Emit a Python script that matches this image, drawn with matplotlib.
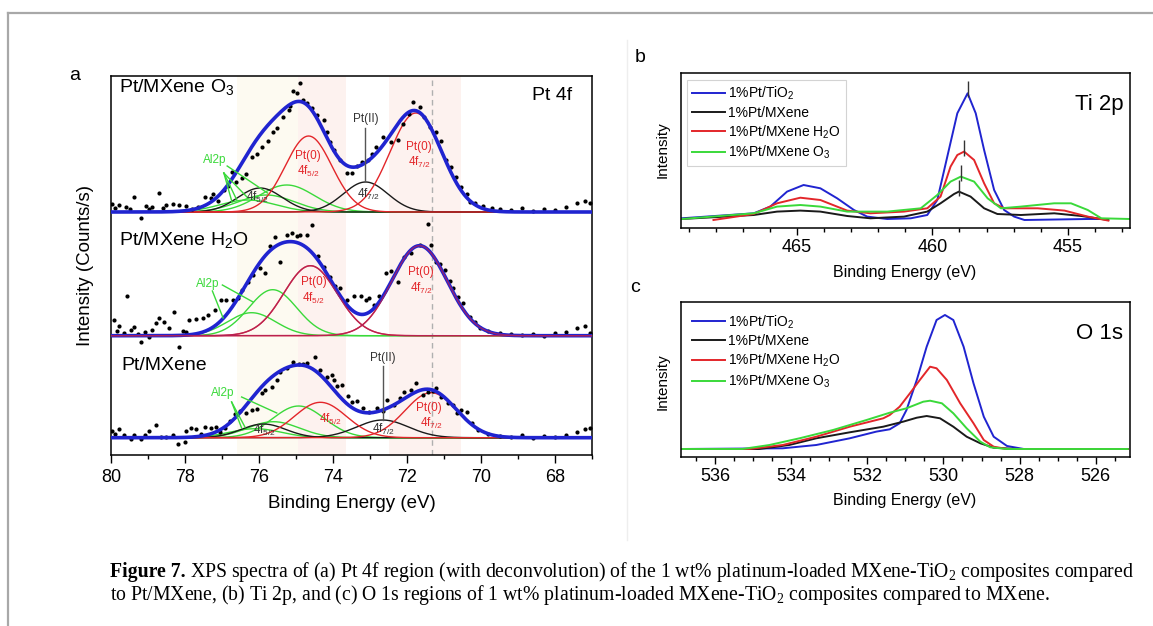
import numpy as np
import matplotlib.pyplot as plt
from matplotlib.ticker import MultipleLocator

plt.rcParams['font.family'] = ['Liberation Sans', 'DejaVu Sans']
plt.rcParams['mathtext.default'] = 'regular'

W, H = 1153, 626
BLUE = '#2024d0'
RED = '#e3262a'
GREEN = '#3ad93a'
BLACK = '#1a1a1a'

# ---------------- panel a : Pt 4f fits (centre eV, height, sigma eV) ----------------
o3_red = [(71.76, 99, 0.70), (74.66, 76, 0.63)]
o3_black = [(73.12, 30, 0.60), (75.97, 24, 0.60)]
o3_green = [(75.25, 27, 0.75), (75.80, 17, 0.75), (76.30, 12, 0.75)]

h2o_red = [(71.66, 90, 0.75), (74.61, 70, 0.72)]
h2o_black = []
h2o_green = [(75.63, 46, 0.65), (76.20, 23, 0.65)]

mx_red = [(71.35, 45, 0.70), (74.34, 35.4, 0.70)]
mx_black = [(72.66, 17.7, 0.70), (75.88, 13.7, 0.60)]
mx_green = [(74.93, 31.7, 0.70), (75.61, 16, 0.70), (76.10, 9, 0.70)]

# measured points (binding energy, counts above baseline)
o3_be = [79.96, 79.88, 79.78, 79.60, 79.50, 79.37, 79.19, 79.06, 78.97, 78.88, 78.69, 78.60,
         78.51, 78.33, 78.15, 77.97, 77.80, 77.65, 77.47, 77.29, 77.24, 77.11, 76.95, 76.85,
         76.74, 76.61, 76.47, 76.34, 76.20, 76.05, 75.93, 75.75, 75.62, 75.52, 75.35, 75.20,
         75.16, 75.07, 74.98, 74.88, 74.80, 74.70, 74.57, 74.43, 74.25, 74.16, 74.07, 73.98,
         73.80, 73.62, 73.48, 73.35, 73.21, 73.05, 72.95, 72.84, 72.66, 72.44, 72.25, 72.10,
         71.95, 71.85, 71.66, 71.53, 71.39, 71.21, 71.07, 70.95, 70.80, 70.67, 70.53, 70.39,
         70.30, 70.17, 69.95, 69.70, 69.50, 69.20, 68.90, 68.60, 68.30, 68.00, 67.70, 67.40,
         67.20, 67.05]
o3_cts = [8, 4, 7, 5.3, 3, 14.7, -6.3, 6, 3, 5.3, 19.3, 4,
          7, 8, 7, 6, 3, 5, 15.3, 13.7, 18, 11.3, 22, 26,
          40.3, 30.3, 33.7, 38, 55.3, 58, 64.7, 71.3, 80, 83.7, 95, 102,
          106, 121.3, 119.3, 129.3, 112, 108.7, 104, 97, 92, 80.3, 70, 62,
          52, 38.7, 39.3, 46, 50.3, 52, 58, 65.3, 74.7, 70.3, 72, 88,
          98, 110.3, 105.3, 95.3, 84.7, 80.3, 71.3, 52, 45, 35, 25, 18,
          10.3, 8.7, 6, 4, 3, 2, 4, 1, 3, 2, 5, 9,
          11, 9]

h2o_be = [79.92, 79.85, 79.78, 79.65, 79.56, 79.45, 79.37, 79.28, 79.19, 79.08, 78.97, 78.88,
          78.78, 78.69, 78.56, 78.42, 78.29, 78.15, 78.05, 77.97, 77.88, 77.70, 77.52, 77.38,
          77.20, 77.02, 76.88, 76.70, 76.58, 76.47, 76.29, 76.15, 75.97, 75.84, 75.70, 75.57,
          75.43, 75.25, 75.11, 74.98, 74.88, 74.70, 74.57, 74.40, 74.25, 74.07, 73.95, 73.80,
          73.62, 73.43, 73.25, 73.10, 73.03, 72.89, 72.75, 72.57, 72.44, 72.25, 72.07, 71.89,
          71.66, 71.44, 71.35, 71.21, 71.10, 70.98, 70.85, 70.75, 70.62, 70.49, 70.30, 70.17,
          70.03, 69.80, 69.50, 69.20, 68.90, 68.60, 68.30, 68.00, 67.70, 67.40, 67.20, 67.05]
h2o_cts = [15.7, 5, 9.7, 3, 39.7, 6, 8.3, 2, -6, 4, -1, 6,
           12.3, 17.3, 14, 8, 24, -11, 5, 4, 15.7, 16.3, 17.3, 20.7,
           25.7, 35.7, 35.7, 35.7, 38, 45.7, 54, 60.7, 67.3, 62.3, 89.7, 99,
           74, 100.7, 102.3, 99.7, 100.7, 100.7, 110.7, 80, 69, 59, 50, 47.3,
           35.7, 39.7, 39.7, 36, 37.3, 30.7, 40, 62.3, 65, 54, 79, 82.3,
           90.7, 111.7, 90.7, 74, 72, 65.7, 55, 48, 39, 32.3, 19, 14,
           7.3, 5, 3, 2, 1, 2, 0, 3, 4, 8, 10, 3]

mx_be = [79.96, 79.88, 79.78, 79.65, 79.46, 79.37, 79.19, 79.08, 78.97, 78.78, 78.65, 78.51,
         78.33, 78.20, 78.01, 77.97, 77.83, 77.70, 77.58, 77.47, 77.29, 77.15, 77.05, 76.93,
         76.79, 76.65, 76.52, 76.34, 76.20, 76.06, 75.93, 75.84, 75.66, 75.52, 75.43, 75.25,
         75.07, 74.93, 74.80, 74.70, 74.48, 74.35, 74.16, 74.02, 73.98, 73.88, 73.75, 73.60,
         73.48, 73.34, 73.18, 73.03, 72.80, 72.66, 72.53, 72.35, 72.20, 72.07, 71.89, 71.75,
         71.57, 71.44, 71.30, 71.21, 71.07, 70.89, 70.76, 70.65, 70.53, 70.39, 70.25, 70.08,
         69.80, 69.50, 69.20, 68.90, 68.60, 68.30, 68.00, 67.70, 67.40, 67.20, 67.05]
mx_cts = [7, 4, 8.3, 3, -1.7, 2.7, -1.7, 3, 7, 13, 1, 1,
          2.7, -6.3, -4, 6.3, 9.3, 8.3, 4, 10.3, 9.3, 10.3, 6, 9.3,
          17, 23.7, 27, 25, 27.7, 28.3, 44.3, 47.7, 51, 57.7, 66, 70,
          76, 73.7, 74, 75, 81, 68, 61, 62.7, 57.7, 52, 52.7, 42,
          36, 37, 30, 26, 29.3, 27, 37.7, 32.7, 40, 46, 47.7, 55,
          42.7, 46, 47, 49.3, 41, 34.3, 32.7, 25, 27.7, 26, 15, 7.7,
          4, 2, 1, 3, 0, 2, 1, 3, 6, 9, 10]

# ---------------- panel b : Ti 2p ----------------
ti_tio2_be = [469.26, 466.6, 465.99, 465.37, 464.76, 464.14, 463.52, 462.9, 462.41, 461.67,
              460.8, 460.19, 459.82, 459.45, 459.08, 458.7, 458.4, 458.09, 457.72, 457.35,
              456.98, 456.6, 454.26, 453.7]
ti_tio2_y = [10, 15, 21.7, 36.7, 43.3, 40, 30, 18.3, 11.7, 9.3,
             10, 13.3, 28.3, 71.7, 115, 135, 115, 78.3, 38.3, 18.3,
             11.7, 8.3, 9.3, 9.3]
ti_mx_be = [469.26, 466.6, 465.74, 464.88, 464.14, 463.15, 462.29, 461.05, 460.19, 459.7,
            459.2, 459.02, 458.59, 458.09, 457.6, 456.73, 455.5, 454.5, 453.5]
ti_mx_y = [9.3, 13.3, 16.7, 17.7, 16.7, 12.3, 10, 11.7, 16.7, 25,
           34.3, 36.7, 31.7, 20, 14.3, 13.3, 15, 12.3, 8.3]
ti_h2o_be = [468.09, 466.6, 465.74, 464.88, 464.14, 463.15, 462.29, 461.05, 460.19, 459.7,
             459.33, 459.08, 458.83, 458.46, 458.09, 457.72, 457.35, 456.11, 455.12, 454.26,
             453.5]
ti_h2o_y = [8.3, 14.3, 25, 30.6, 28.3, 17.7, 15, 16.7, 20, 31.7,
            61.7, 73.3, 76.7, 68.3, 45, 25, 20, 20, 17.7, 11.7,
            7.7]
ti_o3_be = [469.26, 466.6, 465.74, 464.88, 464.14, 463.15, 461.67, 460.43, 459.82, 459.33,
            458.95, 458.46, 457.96, 457.47, 456.73, 455.5, 454.88, 454.26, 453.76, 452.7]
ti_o3_y = [9.3, 15, 21.7, 23.3, 21.7, 16.7, 16.7, 20, 33.3, 46.7,
           51.7, 46.7, 30, 20, 21.7, 25, 25, 18.3, 10, 9.3]

# ---------------- panel c : O 1s ----------------
o_tio2_be = [536.9, 534.22, 533.34, 532.46, 531.76, 531.41, 531.15, 530.97, 530.7, 530.44,
             530.18, 529.96, 529.74, 529.47, 529.21, 528.94, 528.68, 528.33, 527.89, 525.16]
o_tio2_y = [8.3, 9, 12.3, 19, 25.7, 28, 34, 47.3, 77.3, 110.6,
            137.3, 142.3, 137.3, 110.6, 74, 40.6, 20.6, 11.3, 8.3, 8.3]
o_mx_be = [536.9, 534.84, 534.05, 533.34, 532.46, 531.58, 531.06, 530.7, 530.44, 530.09,
           529.74, 529.39, 529.03, 528.68, 528.07, 525.16]
o_mx_y = [8.3, 8.3, 12.3, 19, 25, 30.6, 35.6, 39.6, 41.3, 39,
          30.6, 20.6, 14, 9.6, 8.3, 8.3]
o_h2o_be = [536.9, 535.1, 534.22, 533.34, 532.46, 531.58, 531.41, 531.15, 530.88, 530.62,
            530.35, 530.18, 529.91, 529.56, 529.21, 528.94, 528.68, 528.33, 525.16]
o_h2o_y = [8.3, 8.3, 12.3, 20.6, 30.6, 39, 42.3, 50.6, 64, 77.3,
           90.6, 89, 77.3, 54, 34, 17.3, 10.6, 8.3, 8.3]
o_o3_be = [536.9, 535.28, 534.57, 533.78, 532.9, 532.02, 531.41, 530.97, 530.53, 530.35,
           530.04, 529.74, 529.39, 529.03, 528.77, 528.33, 525.16]
o_o3_y = [8.3, 8.3, 12.3, 19, 27.3, 37.3, 44.6, 49, 55.6, 56.6,
          54, 44, 29, 15.6, 10, 8.3, 8.3]

legend_labels = ['1%Pt/TiO$_2$', '1%Pt/MXene', '1%Pt/MXene H$_2$O', '1%Pt/MXene O$_3$']


def peak(x, c, h, s):
    return h * np.exp(-(x - c) ** 2 / (2 * s * s))


def rect(l, t, r, b):
    return [l / W, 1 - b / H, (r - l) / W, (b - t) / H]


fig = plt.figure(figsize=(W / 100, H / 100), dpi=100)

# outer frame and separator
fig.add_artist(plt.Line2D([8 / W, 1], [1 - 13 / H, 1 - 13 / H], color='#a8a8a8', lw=1.6))
fig.add_artist(plt.Line2D([8 / W, 8 / W], [0, 1 - 13 / H], color='#a8a8a8', lw=1.6))
fig.add_artist(plt.Line2D([627 / W, 627 / W], [1 - 40 / H, 1 - 540 / H], color='#eeeeee', lw=1))

# ---------- panel a ----------
ax = fig.add_axes(rect(111, 76, 592, 455))
ax.set_xlim(80, 67)
ax.set_ylim(0, 379)
ax.axvspan(76.6, 74.95, color='#fdfaf1', lw=0, zorder=0)
ax.axvspan(74.95, 73.65, color='#fdf2ef', lw=0, zorder=0)
ax.axvspan(72.5, 70.55, color='#fdf2ef', lw=0, zorder=0)
ax.axvline(71.32, color='#b0b0b0', ls=(0, (4, 3)), lw=1, zorder=1)

x = np.linspace(80, 67, 600)
spectra = [
    (243, o3_red, o3_black, o3_green, o3_be, o3_cts),
    (119.3, h2o_red, h2o_black, h2o_green, h2o_be, h2o_cts),
    (17.3, mx_red, mx_black, mx_green, mx_be, mx_cts),
]
for i, (base, reds, blacks, greens, pbe, pct) in enumerate(spectra):
    total = np.zeros_like(x)
    for comps, col in ((greens, GREEN), (blacks, BLACK), (reds, RED)):
        for c, h, s in comps:
            y = peak(x, c, h, s)
            total += y
            ax.plot(x, base + y, color=col, lw=1.0, zorder=3)
    ax.scatter(pbe, base + np.array(pct), s=9, color='black', zorder=4, lw=0)
    ax.plot(x, base + total, color=BLUE, lw=2.6, zorder=5)
    if i == 1:
        for c, h, s in reds:
            ax.plot(x, base + peak(x, c, h, s), color='#b0205a', lw=1.0, zorder=6, alpha=0.8)

ax.set_yticks([])
ax.xaxis.set_major_locator(MultipleLocator(2))
ax.xaxis.set_minor_locator(MultipleLocator(1))
ax.tick_params(axis='x', which='major', direction='out', length=6, width=1, labelsize=13, pad=4)
ax.tick_params(axis='x', which='minor', direction='out', length=3, width=1)
for sp in ax.spines.values():
    sp.set_linewidth(1.1)

# labels in panel a
ax.text(79.78, 368, 'Pt/MXene O$_3$', fontsize=14, va='center')
ax.text(79.78, 215, 'Pt/MXene H$_2$O', fontsize=14, va='center')
ax.text(79.73, 90, 'Pt/MXene', fontsize=14, va='center')
ax.text(67.54, 359, 'Pt 4f', fontsize=14, va='center', ha='right')

small = dict(fontsize=8.5, ha='center', va='center')
for (bx, by, t, col) in [
        (74.67, 299, 'Pt(0)', RED), (74.67, 284, '4f$_{5/2}$', RED),
        (71.67, 308, 'Pt(0)', RED), (71.67, 293, '4f$_{7/2}$', RED),
        (76.03, 258, '4f$_{5/2}$', '#333333'), (73.03, 261, '4f$_{7/2}$', '#333333'),
        (73.12, 336, 'Pt(II)', '#333333'), (77.2, 295, 'Al2p', GREEN),
        (74.53, 173, 'Pt(0)', RED), (74.53, 157, '4f$_{5/2}$', RED),
        (71.62, 183, 'Pt(0)', RED), (71.62, 167, '4f$_{7/2}$', RED),
        (77.39, 171, 'Al2p', GREEN),
        (72.65, 97, 'Pt(II)', '#333333'), (76.98, 62, 'Al2p', GREEN),
        (74.07, 36, '4f$_{5/2}$', RED), (75.84, 25, '4f$_{5/2}$', '#333333'),
        (72.63, 26, '4f$_{7/2}$', '#333333'),
        (71.40, 47, 'Pt(0)', RED), (71.35, 32, '4f$_{7/2}$', RED)]:
    ax.text(bx, by, t, color=col, zorder=7, **small)

# Pt(II) pointers and Al2p leader lines
ax.plot([73.13, 73.13], [327, 274], color='#555555', lw=1, zorder=6)
ax.plot([72.66, 72.66], [89, 35], color='#555555', lw=1, zorder=6)
for (x0, y0, x1, y1) in [(76.86, 289, 75.77, 262), (76.95, 282, 76.73, 253), (76.95, 282, 76.6, 255),
                         (76.95, 282, 76.3, 257),
                         (76.99, 170, 76.16, 153), (77.26, 164, 76.97, 137),
                         (76.47, 58, 75.52, 42), (76.74, 53, 76.47, 27), (76.74, 53, 76.38, 28)]:
    ax.plot([x0, x1], [y0, y1], color=GREEN, lw=1, zorder=6)

fig.text(352 / W, 1 - 504 / H, 'Binding Energy (eV)', fontsize=13.5, ha='center', va='center')
fig.text(85 / W, 1 - 265 / H, 'Intensity (Counts/s)', fontsize=13.5, ha='center', va='center',
         rotation=90)
fig.text(75 / W, 1 - 76 / H, 'a', fontsize=14, ha='center', va='center')


# ---------- panels b and c ----------
def small_panel(box, xlim, minor, series, title, frame, leg_anchor, peaks=None):
    a = fig.add_axes(rect(*box))
    a.set_xlim(*xlim)
    a.set_ylim(0, 155)
    cols = [BLUE, BLACK, RED, GREEN]
    for (bx, by), col, lab in zip(series, cols, legend_labels):
        a.plot(bx, by, color=col, lw=1.4, label=lab)
    if peaks:
        for (px, py), col in zip(peaks, cols):
            a.plot([px], [py], marker='|', ms=11, mew=1, color='#333333')
    a.set_yticks([])
    a.xaxis.set_major_locator(MultipleLocator(5 if minor == 1 else 2))
    a.xaxis.set_minor_locator(MultipleLocator(minor))
    a.tick_params(axis='x', which='major', direction='out', length=5, width=1, labelsize=13, pad=3)
    a.tick_params(axis='x', which='minor', direction='out', length=3, width=1)
    for sp in a.spines.values():
        sp.set_linewidth(1.1)
    a.text(0.985, 0.8, title, transform=a.transAxes, fontsize=16, ha='right', va='center')
    leg = a.legend(loc='upper left', bbox_to_anchor=leg_anchor, borderaxespad=0, fontsize=10,
                   frameon=frame, fancybox=False, handlelength=2.4, handletextpad=0.2,
                   labelspacing=0.25, borderpad=0.35)
    if frame:
        leg.get_frame().set_edgecolor('#c8c8c8')
        leg.get_frame().set_linewidth(0.8)
    return a


small_panel((680.7, 73.3, 1130, 228.3), (469.3, 452.7), 1,
            [(ti_tio2_be, ti_tio2_y), (ti_mx_be, ti_mx_y), (ti_h2o_be, ti_h2o_y), (ti_o3_be, ti_o3_y)],
            'Ti 2p', True, (6.3 / 449.3, 1 - 6.7 / 155),
            peaks=[(458.7, 139), (458.83, 80), (458.95, 55), (459.02, 40)])
small_panel((680.7, 302.3, 1130, 457.3), (536.9, 525.1), 0.5,
            [(o_tio2_be, o_tio2_y), (o_mx_be, o_mx_y), (o_h2o_be, o_h2o_y), (o_o3_be, o_o3_y)],
            'O 1s', False, (6.3 / 449.3, 1 - 6 / 155))

fig.text(905 / W, 1 - 272 / H, 'Binding Energy (eV)', fontsize=11.5, ha='center', va='center')
fig.text(905 / W, 1 - 500 / H, 'Binding Energy (eV)', fontsize=11.5, ha='center', va='center')
fig.text(663 / W, 1 - 150 / H, 'Intensity', fontsize=11, ha='center', va='center', rotation=90)
fig.text(663 / W, 1 - 382 / H, 'Intensity', fontsize=11, ha='center', va='center', rotation=90)
fig.text(640 / W, 1 - 57 / H, 'b', fontsize=14, ha='center', va='center')
fig.text(635 / W, 1 - 288 / H, 'c', fontsize=14, ha='center', va='center')

# ---------- caption ----------
serif = ['Liberation Serif', 'DejaVu Serif']
r = fig.canvas.get_renderer()
bold = fig.text(110 / W, 1 - 572 / H, 'Figure 7.', fontsize=14.2, family=serif, weight='bold',
                va='center')
bb = bold.get_window_extent(r)
fig.text((bb.x1 + 4) / W, 1 - 572 / H,
         'XPS spectra of (a) Pt 4f region (with deconvolution) of the 1 wt% platinum-loaded '
         'MXene-TiO$_2$ composites compared', fontsize=14.2, family=serif, va='center')
fig.text(110 / W, 1 - 595 / H,
         'to Pt/MXene, (b) Ti 2p, and (c) O 1s regions of 1 wt% platinum-loaded MXene-TiO$_2$ '
         'composites compared to MXene.', fontsize=14.2, family=serif, va='center')

fig.savefig('out.png', dpi=100)
